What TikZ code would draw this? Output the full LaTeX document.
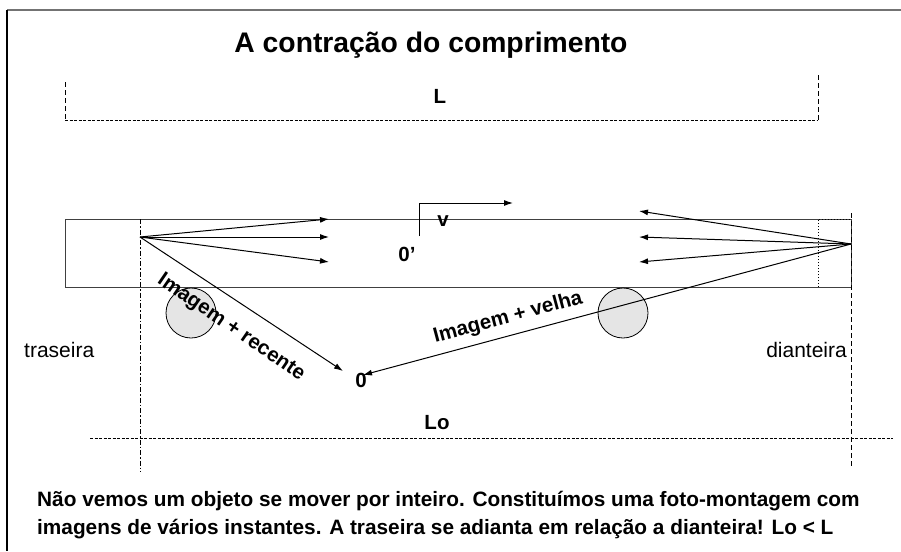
\documentclass[tikz,border=0pt]{standalone}
\usepackage{fontspec}
\setmainfont{Liberation Sans}
\usetikzlibrary{arrows.meta}
\begin{document}
\begin{tikzpicture}[x=1pt,y=-1pt,
  arr/.style={-{Latex[length=9pt,width=6pt]}, line width=1pt},
  rod/.style={line width=0.9pt, draw=black!75},
  dimline/.style={line width=1pt, dash pattern=on 3pt off 1.5pt},
  vdash/.style={line width=1pt, dash pattern=on 5pt off 3pt},
  vdashdot/.style={line width=1pt, dash pattern=on 5pt off 2pt on 1.5pt off 2pt},
  lbl/.style={font=\fontsize{20.5}{24}\selectfont\bfseries, inner sep=0pt},
  side/.style={font=\fontsize{21}{24}\selectfont, inner sep=0pt},
  ball/.style={circle, draw, fill=black!10, minimum size=50pt, inner sep=0pt, line width=0.8pt}]
\useasboundingbox (0,0) rectangle (901,551);
% frame
\draw[line width=1.5pt, draw=black!55] (7,10) -- (901,10);
\draw[line width=1.5pt] (7,10) -- (7,551);
% title
\node[font=\fontsize{28.3}{32}\selectfont\bfseries, inner sep=0pt] (title) at (431,45) {A contração do comprimento};
% L dimension
\coordinate (Ll) at (65,120);
\coordinate (Lr) at (818,120);
\coordinate (Llt) at (65,82);
\coordinate (Lrt) at (818,75);
\draw[vdash] (Llt) -- (Ll);
\draw[vdash] (Lrt) -- (Lr);
\draw[dimline] (Ll) -- (Lr);
\node[lbl] (L) at (440,96) {L};
% rod
\draw[rod] (65,219) rectangle (851,287);
\draw[line width=1pt, dotted] (818,287) -- (818,219) -- (851,219);
% circles
\node[ball] (c1) at (191,313) {};
\node[ball] (c2) at (623,313) {};
% verticals
\coordinate (tl) at (140,219);
\coordinate (bl) at (140,472);
\coordinate (tr) at (851,213);
\coordinate (br) at (851,466);
\draw[vdashdot] (tl) -- (bl);
\draw[vdash] (tr) -- (br);
% sources
\coordinate (S) at (140,237);
\coordinate (D) at (851,244);
\coordinate (a1) at (329,219);
\coordinate (a2) at (329,237);
\coordinate (a3) at (329,262);
\coordinate (b1) at (639,211);
\coordinate (b2) at (639,237);
\coordinate (b3) at (639,262);
\draw[arr] (S) -- (a1);
\draw[arr] (S) -- (a2);
\draw[arr] (S) -- (a3);
\draw[arr] (D) -- (b1);
\draw[arr] (D) -- (b2);
\draw[arr] (D) -- (b3);
% observer
\node[lbl] (O) at (361,380) {0};
\coordinate (o1) at (343,371);
\coordinate (o2) at (363,375);
\draw[arr] (S) -- (o1);
\draw[arr] (D) -- (o2);
\node[lbl, rotate=-34.5] (rec) at (231,328) {Imagem + recente};
\node[lbl, rotate=15] (vel) at (508,318) {Imagem + velha};
% moving frame
\coordinate (vb) at (419,236);
\coordinate (vc) at (419,203);
\coordinate (vt) at (513,203);
\draw[arr] (vb) -- (vc) -- (vt);
\node[lbl] (v) at (443,221) {v};
\node[lbl] (Op) at (407,254) {0'};
% side labels
\node[side, anchor=west] (tras) at (24,350) {traseira};
\node[side, anchor=east] (dian) at (847,350) {dianteira};
% Lo dimension
\coordinate (Lo1) at (90,438);
\coordinate (Lo2) at (893,438);
\draw[dimline] (Lo1) -- (Lo2);
\node[lbl] (Lo) at (437,423) {Lo};
% caption
\node[font=\fontsize{20.8}{27.5}\selectfont\bfseries, inner sep=0pt, anchor=west, align=left] (cap) at (37,515)
{Não vemos um objeto se mover por inteiro. Constituímos uma foto-montagem com\\imagens de vários instantes. A traseira se adianta em relação a dianteira! Lo < L};
\end{tikzpicture}
\end{document}
